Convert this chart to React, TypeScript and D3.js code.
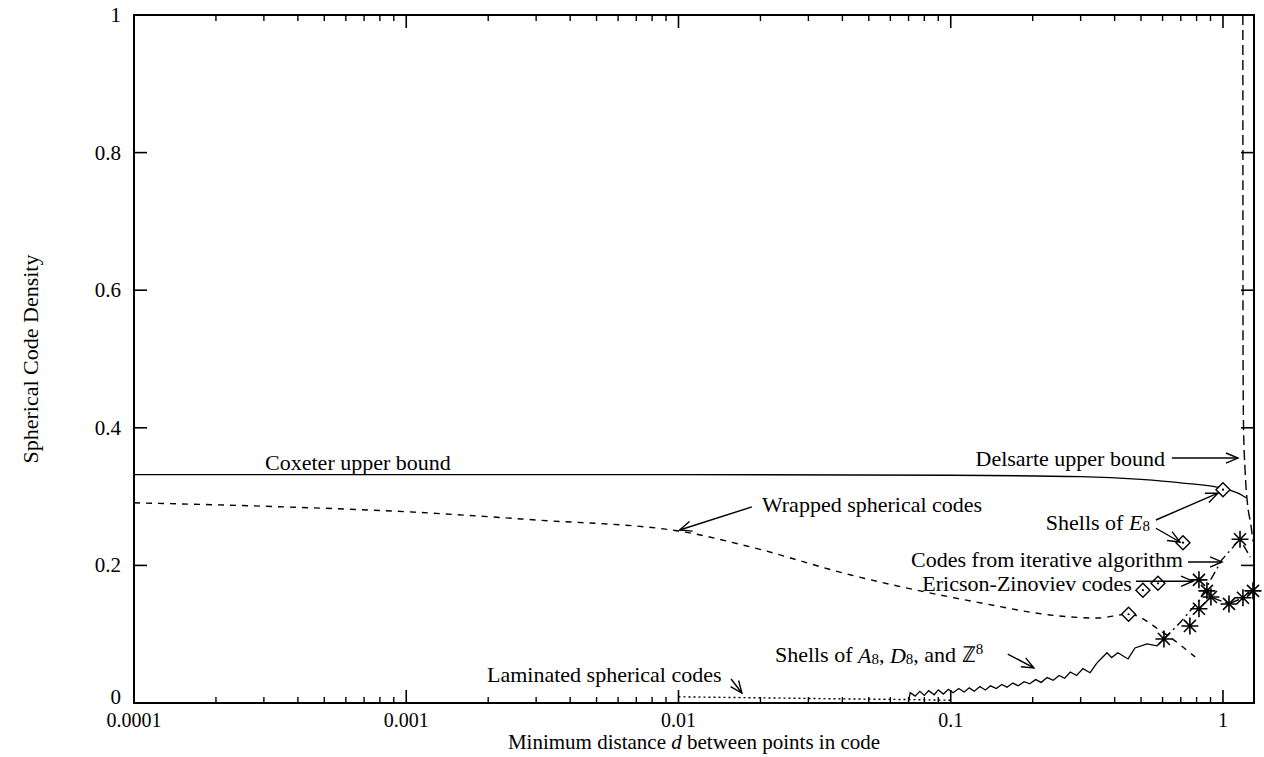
import React from "react";
import * as d3 from "d3";

// values: [minimum distance d, density]
const coxeter: [number, number][] = [
  [0.0001, 0.332], [0.01, 0.332], [0.1, 0.331], [0.3, 0.329], [0.5, 0.325],
  [0.7, 0.32], [1.0, 0.312], [1.15, 0.304], [1.22, 0.298],
];
const delsarte: [number, number][] = [
  [1.183, 1.0], [1.185, 0.5], [1.19, 0.4], [1.205, 0.34], [1.23, 0.29],
  [1.265, 0.26], [1.29, 0.235],
];
const wrapped: [number, number][] = [
  [0.0001, 0.291], [0.0003, 0.286], [0.001, 0.278], [0.003, 0.266], [0.01, 0.25],
  [0.0183, 0.227], [0.043, 0.186], [0.075, 0.164], [0.131, 0.145], [0.231, 0.128],
  [0.344, 0.1235], [0.45, 0.129], [0.6, 0.103], [0.79, 0.067],
];
const laminated: [number, number][] = [
  [0.01, 0.009], [0.02, 0.0075], [0.04, 0.006], [0.07, 0.005], [0.1, 0.004],
];
const shellsA8: [number, number][] = [
  [0.07, 0.003], [0.071, 0.015], [0.074, 0.01], [0.077, 0.017], [0.08, 0.011],
  [0.083, 0.018], [0.087, 0.012], [0.09, 0.019], [0.094, 0.013], [0.098, 0.02],
  [0.102, 0.015], [0.107, 0.021], [0.112, 0.016], [0.117, 0.022], [0.122, 0.017],
  [0.128, 0.024], [0.134, 0.019], [0.14, 0.025], [0.147, 0.021], [0.154, 0.027],
  [0.161, 0.023], [0.169, 0.029], [0.177, 0.025], [0.186, 0.031], [0.195, 0.028],
  [0.205, 0.034], [0.215, 0.03], [0.226, 0.037], [0.238, 0.033], [0.25, 0.04],
  [0.262, 0.036], [0.275, 0.045], [0.29, 0.04], [0.306, 0.05], [0.325, 0.044],
  [0.344, 0.058], [0.375, 0.073], [0.39, 0.066], [0.411, 0.073], [0.448, 0.064],
  [0.475, 0.08], [0.526, 0.086], [0.572, 0.083], [0.607, 0.093],
];
const iterativeUpper: [number, number][] = [
  [0.607, 0.093], [0.7, 0.118], [0.82, 0.15], [0.99, 0.208], [1.155, 0.238], [1.26, 0.212],
];
const iterativeLower: [number, number][] = [
  [0.816, 0.137], [0.903, 0.154], [1.052, 0.144], [1.184, 0.153], [1.289, 0.163],
];
const stars: [number, number][] = [
  [1.155, 0.238], [0.816, 0.179], [0.873, 0.163], [0.903, 0.154], [0.816, 0.137],
  [0.756, 0.112], [0.607, 0.093], [1.052, 0.144], [1.184, 0.153], [1.289, 0.163],
];
const e8Shells: [number, number][] = [
  [0.45, 0.129], [0.508, 0.164], [0.577, 0.174], [0.713, 0.233], [1.0, 0.31],
];
const xTickValues = [0.0001, 0.001, 0.01, 0.1, 1];
const xTickLabels = ["0.0001", "0.001", "0.01", "0.1", "1"];
const yTickValues = [0, 0.2, 0.4, 0.6, 0.8, 1];
const yTickLabels = ["0", "0.2", "0.4", "0.6", "0.8", "1"];

const W = 1264;
const H = 757;
const margin = { top: 15, right: 10, bottom: 54, left: 134 };
const FONT = "'Liberation Serif', 'Times New Roman', serif";
const FS = 22;

export default function App() {
  const x = d3.scaleLog().domain([0.0001, 1.3]).range([margin.left, W - margin.right]);
  const y = d3.scaleLinear().domain([0, 1]).range([H - margin.bottom, margin.top]);
  const line = d3.line<[number, number]>().x((d) => x(d[0])).y((d) => y(d[1]));
  const smooth = d3.line<[number, number]>().x((d) => x(d[0])).y((d) => y(d[1])).curve(d3.curveMonotoneX);
  const x0 = margin.left;
  const x1 = W - margin.right;
  const y0 = H - margin.bottom;
  const y1 = margin.top;

  const minor: number[] = [];
  for (let e = -4; e <= 0; e++) {
    for (let k = 2; k <= 9; k++) {
      const v = k * Math.pow(10, e);
      if (v < 1.3) minor.push(v);
    }
  }

  const arrow = (a: [number, number], b: [number, number], key: string) => {
    const ax = x(a[0]), ay = y(a[1]), bx = x(b[0]), by = y(b[1]);
    const ang = Math.atan2(by - ay, bx - ax);
    const L = 13, s = 0.4;
    const h1 = [bx - L * Math.cos(ang - s), by - L * Math.sin(ang - s)];
    const h2 = [bx - L * Math.cos(ang + s), by - L * Math.sin(ang + s)];
    return (
      <g key={key} stroke="#000" strokeWidth={1.4} fill="none">
        <line x1={ax} y1={ay} x2={bx} y2={by} />
        <polyline points={`${h1[0]},${h1[1]} ${bx},${by} ${h2[0]},${h2[1]}`} />
      </g>
    );
  };

  const star = (d: [number, number], i: number) => {
    const cx = x(d[0]), cy = y(d[1]), r = 8.5;
    const p = [0, 45, 90, 135].map((a) => {
      const t = (a * Math.PI) / 180;
      return `M${cx - r * Math.cos(t)},${cy - r * Math.sin(t)}L${cx + r * Math.cos(t)},${cy + r * Math.sin(t)}`;
    });
    return <path key={"s" + i} d={p.join("")} stroke="#000" strokeWidth={1.6} fill="none" />;
  };

  const diamond = (d: [number, number], i: number) => {
    const cx = x(d[0]), cy = y(d[1]), r = 7;
    return (
      <g key={"d" + i}>
        <path d={`M${cx},${cy - r}L${cx + r},${cy}L${cx},${cy + r}L${cx - r},${cy}Z`} fill="#fff" stroke="#000" strokeWidth={1.4} />
        <circle cx={cx} cy={cy} r={1.1} fill="#000" />
      </g>
    );
  };

  const sub = { fontSize: 15, baselineShift: "-25%" } as React.CSSProperties;
  const sup = { fontSize: 15, baselineShift: "40%" } as React.CSSProperties;

  return (
    <svg width={W} height={H} style={{ position: "absolute", left: 0, top: 0, background: "#fff" }} fontFamily={FONT} fontSize={FS}>
      {/* frame */}
      <rect x={x0} y={y1} width={x1 - x0} height={y0 - y1} fill="none" stroke="#000" strokeWidth={2} />

      {/* x ticks, bottom and top */}
      {xTickValues.map((v) => (
        <g key={"xt" + v} stroke="#000" strokeWidth={1.6}>
          <line x1={x(v)} x2={x(v)} y1={y0} y2={y0 - 13} />
          <line x1={x(v)} x2={x(v)} y1={y1} y2={y1 + 13} />
        </g>
      ))}
      {minor.map((v) => (
        <g key={"xm" + v} stroke="#000" strokeWidth={1.4}>
          <line x1={x(v)} x2={x(v)} y1={y0} y2={y0 - 6} />
          <line x1={x(v)} x2={x(v)} y1={y1} y2={y1 + 6} />
        </g>
      ))}
      {xTickValues.map((v, i) => (
        <text key={"xl" + v} x={x(v)} y={y0 + 17} textAnchor="middle" dominantBaseline="central" fontSize={20}>
          {xTickLabels[i]}
        </text>
      ))}

      {/* y ticks, left and right */}
      {yTickValues.map((v) => (
        <g key={"yt" + v} stroke="#000" strokeWidth={1.6}>
          <line x1={x0} x2={x0 + 13} y1={y(v)} y2={y(v)} />
          <line x1={x1} x2={x1 - 13} y1={y(v)} y2={y(v)} />
        </g>
      ))}
      {yTickValues.map((v, i) => (
        <text key={"yl" + v} x={x0 - 13} y={y(v) - (v === 0 ? 6 : 0)} textAnchor="end" dominantBaseline="central" fontSize={21}>
          {yTickLabels[i]}
        </text>
      ))}

      {/* axis titles */}
      <text transform={`translate(30,${(y0 + y1) / 2}) rotate(-90)`} textAnchor="middle" dominantBaseline="central">
        Spherical Code Density
      </text>
      <text x={(x0 + x1) / 2} y={y0 + 39} textAnchor="middle" dominantBaseline="central" fontSize={21}>
        Minimum distance <tspan fontStyle="italic">d</tspan> between points in code
      </text>

      {/* series */}
      <g fill="none" stroke="#000">
        <path d={smooth(coxeter) || ""} strokeWidth={1.4} />
        <path d={smooth(delsarte) || ""} strokeWidth={1.4} strokeDasharray="10,5" />
        <path d={smooth(wrapped) || ""} strokeWidth={1.4} strokeDasharray="6,6" />
        <path d={line(laminated) || ""} strokeWidth={1.4} strokeDasharray="2,3" />
        <path d={line(shellsA8) || ""} strokeWidth={1.3} />
        <path d={line(iterativeUpper) || ""} strokeWidth={1.4} strokeDasharray="9,4,2,4" />
        <path d={line(iterativeLower) || ""} strokeWidth={1.4} strokeDasharray="9,4,2,4" />
      </g>
      {e8Shells.map(diamond)}
      {stars.map(star)}

      {/* annotations */}
      <text x={x(3.03e-4)} y={y(0.349)} dominantBaseline="central">Coxeter upper bound</text>

      <text x={x(0.612)} y={y(0.356)} textAnchor="end" dominantBaseline="central">Delsarte upper bound</text>
      {arrow([0.649, 0.356], [1.135, 0.356], "a1")}

      <text x={x(0.02025)} y={y(0.288)} dominantBaseline="central">Wrapped spherical codes</text>
      {arrow([0.0186, 0.285], [0.0101, 0.2515], "a2")}

      <text x={x(0.539)} y={y(0.263)} textAnchor="end" dominantBaseline="central">
        Shells of <tspan fontStyle="italic">E</tspan><tspan style={sub}>8</tspan>
      </text>
      {arrow([0.567, 0.266], [0.958, 0.305], "a3")}
      {arrow([0.567, 0.254], [0.695, 0.234], "a4")}

      <text x={x(0.713)} y={y(0.209)} textAnchor="end" dominantBaseline="central">Codes from iterative algorithm</text>
      {arrow([0.744, 0.205], [0.992, 0.205], "a5")}

      <text x={x(0.463)} y={y(0.174)} textAnchor="end" dominantBaseline="central">Ericson-Zinoviev codes</text>
      {arrow([0.479, 0.177], [0.776, 0.177], "a6")}

      <text x={x(0.00198)} y={y(0.0407)} dominantBaseline="central">Laminated spherical codes</text>
      {arrow([0.0156, 0.0349], [0.0171, 0.0145], "a7")}

      <text x={x(0.0226)} y={y(0.0698)} dominantBaseline="central">
        Shells of <tspan fontStyle="italic">A</tspan><tspan style={sub}>8</tspan>, <tspan fontStyle="italic">D</tspan>
        <tspan style={sub}>8</tspan>, and ℤ<tspan style={sup}>8</tspan>
      </text>
      {arrow([0.162, 0.0712], [0.202, 0.0509], "a8")}
    </svg>
  );
}
